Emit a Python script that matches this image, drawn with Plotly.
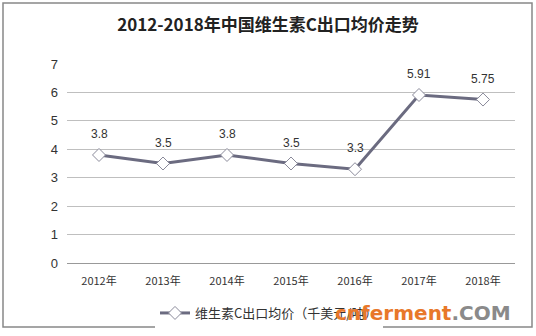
import plotly.graph_objects as go

years = ["2012年", "2013年", "2014年", "2015年", "2016年", "2017年", "2018年"]
prices = [3.8, 3.5, 3.8, 3.5, 3.3, 5.91, 5.75]
labels = ["3.8", "3.5", "3.8", "3.5", "3.3", "5.91", "5.75"]
yticks = [0, 1, 2, 3, 4, 5, 6, 7]

W, H = 536, 336
PW, PH = W - 88, H - 137
fig = go.Figure()
fig.add_trace(go.Scatter(
    x=years, y=prices, mode="lines+markers",
    line=dict(color="#6B6B80", width=3),
    marker=dict(symbol="diamond", size=10, color="white", line=dict(color="#8A8A9A", width=1)),
    name="维生素C出口均价（千美元/吨）",
    cliponaxis=False,
))

annotations = [dict(x=xv, y=yv, text=t, xref="x", yref="y", showarrow=False,
                    yshift=21, font=dict(family="Liberation Sans, Arial", size=12, color="#333333"))
               for xv, yv, t in zip(years, prices, labels)]
annotations.append(dict(text="<b><span style='color:#E8782A'>cnferment</span><span style='color:#8A8A8A'>.COM</span></b>",
                        xref="paper", yref="paper", x=(513 - 67) / PW, y=-(313 - 263) / PH,
                        xanchor="right", yanchor="middle", showarrow=False,
                        font=dict(family="DejaVu Sans", size=20)))

fig.update_layout(
    width=W, height=H,
    margin=dict(l=67, r=21, t=64, b=73, autoexpand=False),
    paper_bgcolor="white", plot_bgcolor="white",
    title=dict(text="<b>2012-2018年中国维生素C出口均价走势</b>", x=0.5, xanchor="center",
               y=1 - 25 / H, yanchor="middle",
               font=dict(family="Noto Sans CJK SC", size=17, color="#222222")),
    xaxis=dict(showgrid=False, showline=True, linecolor="#999999", linewidth=1,
               ticks="", ticklabelstandoff=8,
               tickfont=dict(family="Noto Sans CJK SC", size=11, color="#333333"),
               range=[-0.5, 6.5]),
    yaxis=dict(range=[0, 7], tickvals=yticks, showgrid=True, gridcolor="#BFBFBF", gridwidth=1,
               zeroline=False, showline=False, ticks="", ticklen=0, ticklabelstandoff=8,
               tickfont=dict(family="Liberation Sans, Arial", size=13, color="#333333")),
    showlegend=True,
    legend=dict(orientation="h", x=(155 - 67) / PW, xanchor="left", y=-(313 - 263) / PH, yanchor="middle",
                font=dict(family="Noto Sans CJK SC", size=13, color="#333333")),
    shapes=[dict(type="rect", xref="paper", yref="paper",
                 x0=-64 / PW, x1=1 + 17 / PW,
                 y0=-(73 - 9) / PH, y1=1 + 61 / PH,
                 line=dict(color="#888888", width=1.5))],
    annotations=annotations,
)
fig.write_html("out.html")
